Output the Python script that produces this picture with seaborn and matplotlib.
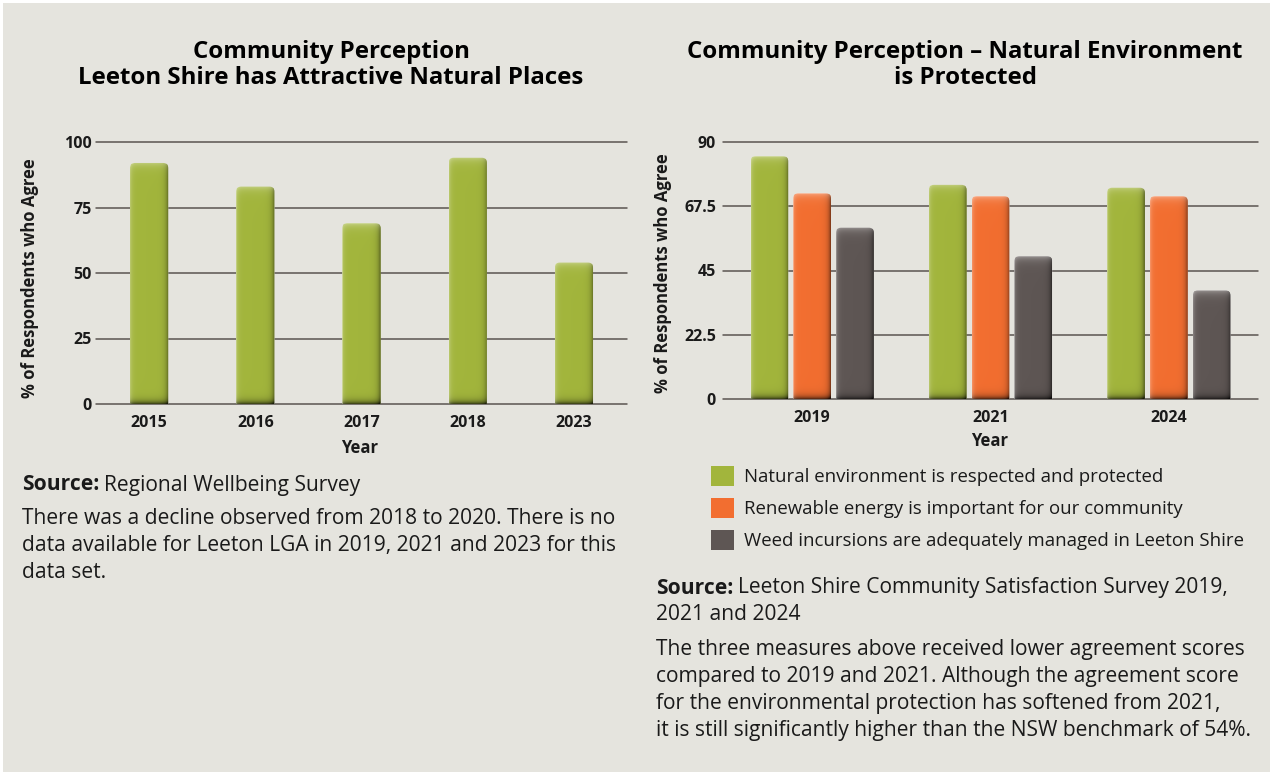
import numpy as np
import pandas as pd
import matplotlib
matplotlib.use("Agg")
import matplotlib.pyplot as plt
import seaborn as sns
from matplotlib.patches import FancyBboxPatch, Patch, Rectangle
from matplotlib.colors import to_rgb

# ---- data -------------------------------------------------------------
years_a = ["2015", "2016", "2017", "2018", "2023"]
agree_a = [92, 83, 69, 94, 54]

years_b = ["2019", "2021", "2024"]
measures = [
    "Natural environment is respected and protected",
    "Renewable energy is important for our community",
    "Weed incursions are adequately managed in Leeton Shire",
]
natural_env = [85, 75, 74]
renewable = [72, 71, 71]
weeds = [60, 50, 38]

ticks_a = [0, 25, 50, 75, 100]
tick_labels_a = ["0", "25", "50", "75", "100"]
ticks_b = [0, 22.5, 45, 67.5, 90]
tick_labels_b = ["0", "22.5", "45", "67.5", "90"]

title_a = ["Community Perception", "Leeton Shire has Attractive Natural Places"]
title_b = ["Community Perception \u2013 Natural Environment", "is Protected"]
source_a = ["Regional Wellbeing Survey"]
notes_a = [
    "There was a decline observed from 2018 to 2020. There is no",
    "data available for Leeton LGA in 2019, 2021 and 2023 for this",
    "data set.",
]
source_b = ["Leeton Shire Community Satisfaction Survey 2019,", "2021 and 2024"]
notes_b = [
    "The three measures above received lower agreement scores",
    "compared to 2019 and 2021. Although the agreement score",
    "for the environmental protection has softened from 2021,",
    "it is still significantly higher than the NSW benchmark of 54%.",
]

# ---- style ------------------------------------------------------------
GREEN = "#A2B53C"
ORANGE = "#F26E30"
GREY = "#5E5654"
BG = "#E5E4DE"
GRID = "#5A5450"
INK = "#1A1A1A"

TITLE_SIZE = 17.3
TICK_SIZE = 11.5
AXIS_SIZE = 12
LEGEND_SIZE = 13.4
BODY = 15.1

sns.set_theme(style="white")
plt.rcParams["font.family"] = ["Open Sans", "DejaVu Sans"]

W, H = 1270, 772
fig = plt.figure(figsize=(W / 100, H / 100), dpi=100)
fig.patch.set_facecolor("white")
fig.add_artist(Rectangle((3 / W, 0), 1, 1 - 3 / H, transform=fig.transFigure,
                         facecolor=BG, edgecolor="none", zorder=-5))


def axes_at(left, top, right, bottom):
    return fig.add_axes([left / W, 1 - bottom / H, (right - left) / W, (bottom - top) / H])


def ftext(x, y, s, **kw):
    return fig.text(x / W, 1 - y / H, s, **kw)


ax1 = axes_at(96, 142, 627, 404)
ax2 = axes_at(723, 142, 1258, 399)

df_a = pd.DataFrame({"Year": years_a, "Agree": agree_a})
sns.barplot(data=df_a, x="Year", y="Agree", color=GREEN, saturation=1,
            width=0.36, ax=ax1, zorder=3)

df_b = pd.DataFrame({
    "Year": years_b * 3,
    "Measure": [m for m in measures for _ in years_b],
    "Value": natural_env + renewable + weeds,
})
sns.barplot(data=df_b, x="Year", y="Value", hue="Measure", hue_order=measures,
            palette=[GREEN, ORANGE, GREY], saturation=1, width=0.72, gap=0.12,
            legend=False, ax=ax2, zorder=3)

for ax, ticks, labels, ymax, n in [(ax1, ticks_a, tick_labels_a, 100, len(years_a)),
                                   (ax2, ticks_b, tick_labels_b, 90, len(years_b))]:
    ax.set_facecolor("none")
    ax.set_xlim(-0.5, n - 0.5)
    ax.set_ylim(0, ymax)
    ax.set_yticks(ticks)
    ax.set_yticklabels(labels)
    ax.set_xlabel("")
    ax.set_ylabel("")
    for s in ax.spines.values():
        s.set_visible(False)
    ax.set_axisbelow(True)
    ax.yaxis.grid(True, color=GRID, linewidth=1.1)
    for gl in ax.get_ygridlines():
        gl.set_clip_on(False)
    ax.tick_params(axis="both", length=0, labelsize=TICK_SIZE, labelcolor=INK)
    ax.tick_params(axis="x", pad=8)
    for lab in ax.get_xticklabels() + ax.get_yticklabels():
        lab.set_fontweight("bold")
ax1.tick_params(axis="y", pad=3)
ax2.tick_params(axis="y", pad=5)


def bevel(ax, p):
    """Rounded top and soft bevel shading on a bar drawn by seaborn."""
    x0, y0, w, h = p.get_x(), p.get_y(), p.get_width(), p.get_height()
    if h <= 0:
        return
    px0, py0 = ax.transData.transform((x0, y0))
    px1, py1 = ax.transData.transform((x0 + w, y0 + h))
    wpx, hpx = px1 - px0, py1 - py0
    sx, sy = wpx / w, hpx / h
    r = 5 / sx
    a = sx / sy
    clip = FancyBboxPatch((x0, y0 - 3 * r * a), w, h + 3 * r * a,
                          boxstyle=f"round,pad=0,rounding_size={r}",
                          mutation_aspect=a, transform=ax.transData)
    p.set_clip_path(clip)
    nc, nr = max(int(round(wpx)), 2), max(int(round(hpx)), 2)
    dl = np.arange(nc) + 0.5
    dr = nc - dl
    dt = np.arange(nr) + 0.5
    db = nr - dt
    base = np.array(to_rgb(p.get_facecolor()))
    light = 0.30 * np.exp(-dl / 2.0)[None, :] + 0.40 * np.exp(-dt / 4.0)[:, None]
    dark = 0.55 * np.exp(-dr / 2.5)[None, :] + 0.70 * np.exp(-db / 3.0)[:, None]
    light = np.clip(light, 0, 1)[..., None]
    dark = np.clip(dark, 0, 0.85)[..., None]
    img = base[None, None, :] * (1 - dark)
    img = img + (1 - img) * light
    im = ax.imshow(img, extent=(x0, x0 + w, y0, y0 + h), aspect="auto",
                   origin="upper", interpolation="bilinear", zorder=3.1)
    im.set_clip_path(clip)


for ax in (ax1, ax2):
    for p in list(ax.patches):
        bevel(ax, p)

# titles
for i, line in enumerate(title_a):
    ftext(331, 52 + 26 * i, line, ha="center", va="center", fontsize=TITLE_SIZE,
          fontweight="bold", color="black")
for i, line in enumerate(title_b):
    ftext(965, 52 + 26 * i, line, ha="center", va="center", fontsize=TITLE_SIZE,
          fontweight="bold", color="black")

# axis titles
ftext(30, 278, "% of Respondents who Agree", rotation=90, ha="center", va="center",
      fontsize=AXIS_SIZE, fontweight="bold", color=INK)
ftext(663, 273, "% of Respondents who Agree", rotation=90, ha="center", va="center",
      fontsize=AXIS_SIZE, fontweight="bold", color=INK)
ftext(360, 448, "Year", ha="center", va="center", fontsize=AXIS_SIZE,
      fontweight="bold", color=INK)
ftext(990, 441, "Year", ha="center", va="center", fontsize=AXIS_SIZE,
      fontweight="bold", color=INK)

# legend for the grouped chart
handles = [Patch(facecolor=c, edgecolor="none") for c in (GREEN, ORANGE, GREY)]
fig.legend(handles, measures, loc="upper left", bbox_to_anchor=(711 / W, 1 - 466 / H),
           frameon=False, fontsize=LEGEND_SIZE, handlelength=1.25, handleheight=1.3,
           handletextpad=0.5, labelspacing=0.62, borderpad=0, borderaxespad=0,
           labelcolor=INK)

renderer = fig.canvas.get_renderer()


def source_block(x, y, rest_lines, step):
    t = ftext(x, y, "Source:", ha="left", va="center", fontsize=BODY,
              fontweight="bold", color=INK)
    bb = t.get_window_extent(renderer)
    ftext(bb.x1 + 5, y, rest_lines[0], ha="left", va="center", fontsize=BODY, color=INK)
    for i, line in enumerate(rest_lines[1:], start=1):
        ftext(x, y + step * i, line, ha="left", va="center", fontsize=BODY, color=INK)


def note_block(x, y, lines, step):
    for i, line in enumerate(lines):
        ftext(x, y + step * i, line, ha="left", va="center", fontsize=BODY, color=INK)


source_block(22, 485, source_a, 27)
note_block(22, 519, notes_a, 27)
source_block(656, 588, source_b, 27)
note_block(656, 650, notes_b, 26.7)

fig.savefig("out.png", dpi=100, facecolor=fig.get_facecolor())
